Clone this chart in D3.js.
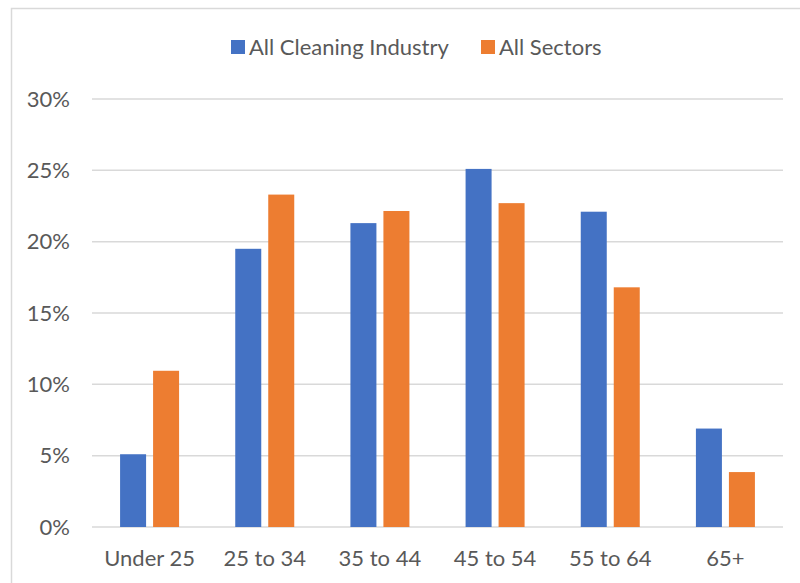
<!DOCTYPE html>
<html>
<head>
<meta charset="utf-8">
<script src="https://cdn.jsdelivr.net/npm/d3@7"></script>
<style>
  body { margin: 0; background: #fff; }
  svg { display: block; }
  .tick text { font-family: Lato, "Open Sans", sans-serif; fill: #595959; }
</style>
</head>
<body>
<svg class="chart"></svg>
<script>
var ageGroups = ["Under 25", "25 to 34", "35 to 44", "45 to 54", "55 to 64", "65+"];
var seriesNames = ["All Cleaning Industry", "All Sectors"];
var cleaning = [5.1, 19.5, 21.3, 25.1, 22.1, 6.9];
var allSectors = [10.95, 23.3, 22.15, 22.7, 16.8, 3.85];
var yTicks = [0, 5, 10, 15, 20, 25, 30];

var W = 800, H = 583;
var margin = {top: 99, right: 17, bottom: 56, left: 92},
    width = W - margin.left - margin.right,
    height = H - margin.top - margin.bottom;

var colors = d3.scaleOrdinal()
    .domain(seriesNames)
    .range(["#4472C4", "#ED7D31"]);

var rows = ageGroups.map(function(a, i) {
  return {age: a, values: [cleaning[i], allSectors[i]]};
});

var svg = d3.select(".chart")
    .attr("width", W)
    .attr("height", H);

// outer frame
svg.append("rect")
    .attr("x", 11.5).attr("y", 8.5)
    .attr("width", W).attr("height", H)
    .attr("fill", "none")
    .attr("stroke", "#D9D9D9")
    .attr("stroke-width", 1.5);

var chart = svg.append("g")
    .attr("transform", "translate(" + margin.left + "," + margin.top + ")");

var x0 = d3.scaleBand()
    .domain(ageGroups)
    .range([0, width])
    .padding(0);

var groupW = 59;
var x1 = d3.scaleBand()
    .domain(seriesNames)
    .range([0, groupW])
    .paddingInner(0.212);

var y = d3.scaleLinear()
    .domain([0, 30])
    .range([height, 0]);

// gridlines
chart.selectAll(".grid")
    .data(yTicks)
    .enter().append("line")
    .attr("class", "grid")
    .attr("x1", 0)
    .attr("x2", width)
    .attr("y1", function(d) { return y(d); })
    .attr("y2", function(d) { return y(d); })
    .attr("stroke", "#D9D9D9")
    .attr("stroke-width", 1.5);

// y axis labels
var yAxis = d3.axisLeft(y)
    .tickValues(yTicks)
    .tickFormat(function(d) { return d + "%"; })
    .tickSize(0)
    .tickPadding(22);

chart.append("g")
    .attr("class", "y axis")
    .call(yAxis)
    .call(function(g) { g.select(".domain").remove(); })
    .selectAll("text")
    .style("font-size", "22px");

// bars
var groups = chart.selectAll(".group")
    .data(rows)
    .enter().append("g")
    .attr("class", "group")
    .attr("transform", function(d) {
      return "translate(" + (x0(d.age) + (x0.bandwidth() - groupW) / 2) + ",0)";
    });

groups.selectAll("rect")
    .data(function(d) {
      return d.values.map(function(v, i) { return {key: seriesNames[i], value: v}; });
    })
    .enter().append("rect")
    .attr("x", function(d) { return x1(d.key); })
    .attr("y", function(d) { return y(d.value); })
    .attr("width", x1.bandwidth())
    .attr("height", function(d) { return y(0) - y(d.value); })
    .attr("fill", function(d) { return colors(d.key); });

// x axis labels
var xAxis = d3.axisBottom(x0)
    .tickSize(0)
    .tickPadding(23);

chart.append("g")
    .attr("class", "x axis")
    .attr("transform", "translate(0," + height + ")")
    .call(xAxis)
    .call(function(g) { g.select(".domain").remove(); })
    .selectAll("text")
    .style("font-size", "22px");

// legend
var legendX = [231, 481];
var legend = svg.selectAll(".legend")
    .data(seriesNames)
    .enter().append("g")
    .attr("class", "legend")
    .attr("transform", function(d, i) { return "translate(" + legendX[i] + ",40)"; });

legend.append("rect")
    .attr("width", 14)
    .attr("height", 14)
    .attr("fill", colors);

legend.append("text")
    .attr("x", 18)
    .attr("y", 7)
    .attr("dy", ".35em")
    .style("font-family", "Lato, 'Open Sans', sans-serif")
    .style("font-size", "22px")
    .attr("fill", "#595959")
    .text(function(d) { return d; });
</script>
</body>
</html>
